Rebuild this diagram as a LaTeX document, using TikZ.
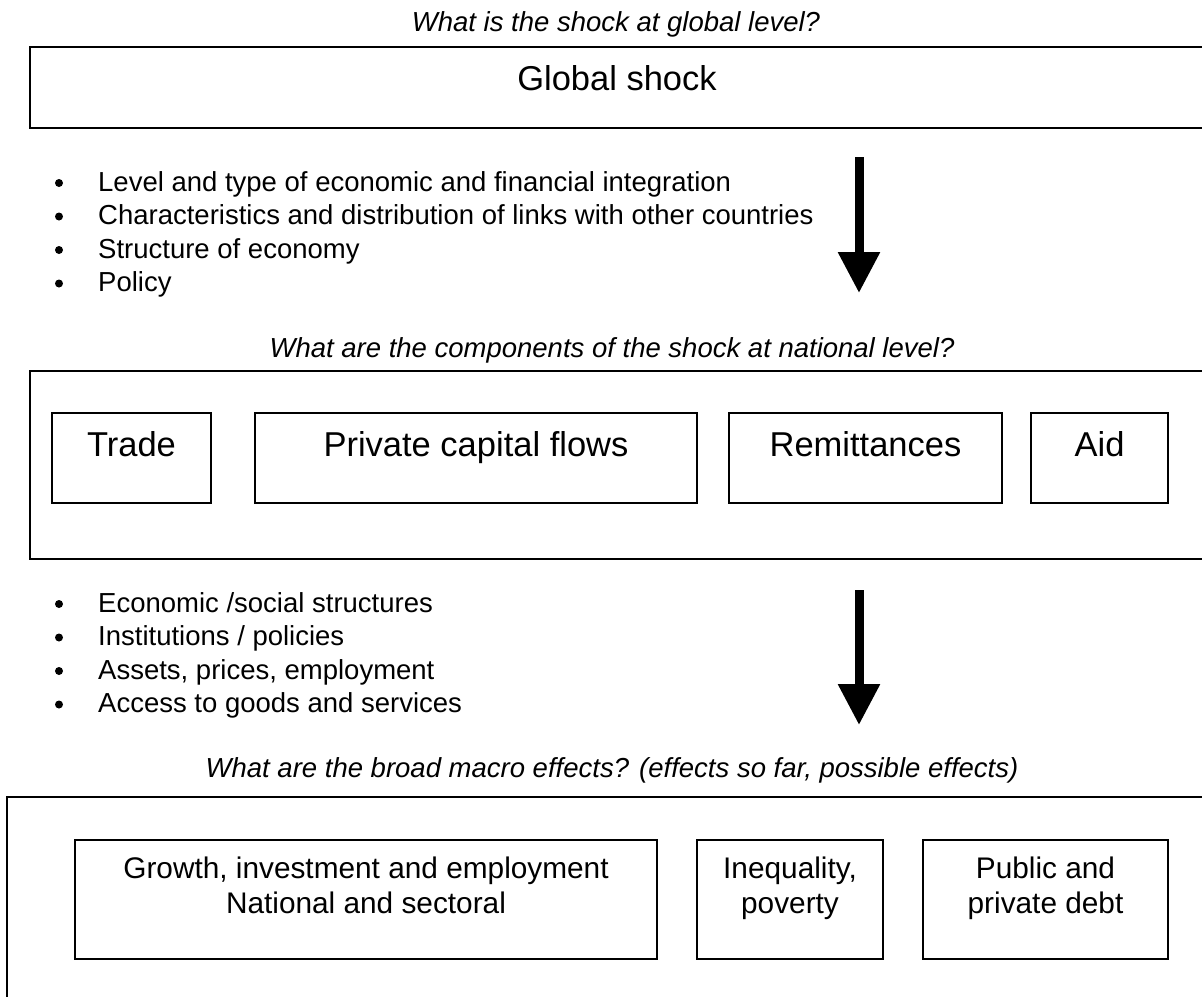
\documentclass[tikz,border=0pt]{standalone}
\usepackage{fontspec}
\setmainfont{Liberation Sans}
\usetikzlibrary{arrows.meta}
\begin{document}
\begin{tikzpicture}[x=1pt,y=-1pt,
  frame/.style={draw=black, line width=2pt, anchor=north west, inner sep=0pt, outer sep=0pt},
  question/.style={font=\fontsize{27.5}{33.5}\selectfont\itshape, anchor=base, inner sep=0pt},
  point/.style={font=\fontsize{27.5}{33.5}\selectfont, anchor=base west, inner sep=0pt},
  biglabel/.style={font=\fontsize{34.5}{40}\selectfont, anchor=base, inner sep=0pt},
  smalllabel/.style={font=\fontsize{29.8}{35}\selectfont, anchor=base, align=center, inner sep=0pt},
  flow/.style={line width=9pt, -{Triangle[width=40pt,length=41pt]}},
]
\clip (0,0) rectangle (1202,996);
\fill[white] (0,0) rectangle (1202,996);

% ---- global level ----
\node[question] (q1) at (616,31) {What is the shock at global level?};
\node[frame, minimum width=1200pt, minimum height=81pt] (global) at (30,47) {};
\node[biglabel] (globaltxt) at (617,90) {Global shock};

% transmission channels
\node[point] (c1) at (98,191)   {Level and type of economic and financial integration};
\node[point] (c2) at (98,224.5) {Characteristics and distribution of links with other countries};
\node[point] (c3) at (98,258)   {Structure of economy};
\node[point] (c4) at (98,291.5) {Policy};
\foreach \n in {c1,c2,c3,c4} \fill (\n.base west) ++(-39,-8) circle (4pt);

\coordinate (f1s) at (859,157);
\coordinate (f1e) at (859,293);
\draw[flow] (f1s) -- (f1e);

% ---- national level ----
\node[question] (q2) at (612,357) {What are the components of the shock at national level?};
\node[frame, minimum width=1200pt, minimum height=188pt] (national) at (30,371) {};
\node[frame, minimum width=159pt, minimum height=90pt] (trade) at (52,413) {};
\node[frame, minimum width=442pt, minimum height=90pt] (capital) at (255,413) {};
\node[frame, minimum width=273pt, minimum height=90pt] (remit) at (729,413) {};
\node[frame, minimum width=137pt, minimum height=90pt] (aid) at (1031,413) {};
\node[biglabel] at ([yshift=-43pt]trade.north) {Trade};
\node[biglabel] at ([yshift=-43pt]capital.north) {Private capital flows};
\node[biglabel] at ([yshift=-43pt]remit.north) {Remittances};
\node[biglabel] at ([yshift=-43pt]aid.north) {Aid};

% mediating factors
\node[point] (m1) at (98,612)   {Economic /social structures};
\node[point] (m2) at (98,645.5) {Institutions / policies};
\node[point] (m3) at (98,679)   {Assets, prices, employment};
\node[point] (m4) at (98,712.5) {Access to goods and services};
\foreach \n in {m1,m2,m3,m4} \fill (\n.base west) ++(-39,-8) circle (4pt);

\coordinate (f2s) at (859,590);
\coordinate (f2e) at (859,725);
\draw[flow] (f2s) -- (f2e);

% ---- macro effects ----
\node[question] (q3) at (612,777) {What are the broad macro effects? (effects so far, possible effects)};
\node[frame, minimum width=1220pt, minimum height=220pt] (macro) at (7,797) {};
\node[frame, minimum width=582pt, minimum height=119pt] (growth) at (75,840) {};
\node[frame, minimum width=186pt, minimum height=119pt] (inequal) at (697,840) {};
\node[frame, minimum width=245pt, minimum height=119pt] (debt) at (923,840) {};
% two-line labels: the base anchor sits on the second line
\node[smalllabel] at ([yshift=-73.7pt]growth.north) {Growth, investment and employment\\National and sectoral};
\node[smalllabel] at ([yshift=-73.7pt]inequal.north) {Inequality,\\poverty};
\node[smalllabel] at ([yshift=-73.7pt]debt.north) {Public and\\private debt};
\end{tikzpicture}
\end{document}
